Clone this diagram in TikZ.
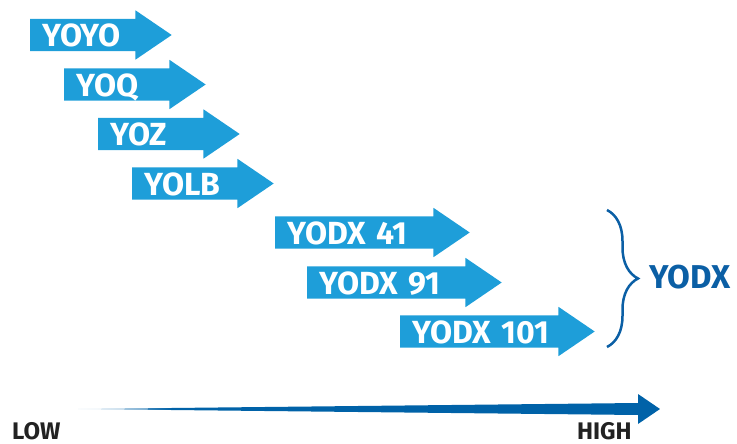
\documentclass[tikz,border=0pt]{standalone}
\usepackage{fontspec}
\setmainfont{Fira Sans}
\usetikzlibrary{shapes.arrows,positioning,decorations.pathreplacing,calc}
\definecolor{arrowcolor}{HTML}{1E9ED9}
\definecolor{bracecolor}{HTML}{0B5FA5}
\definecolor{scalecolor}{HTML}{0062A8}
\definecolor{scaletext}{HTML}{222222}
\colorlet{fadecolor}{scalecolor!15}
\pgfdeclarehorizontalshading{scalefade}{100bp}{color(0bp)=(fadecolor); color(25bp)=(fadecolor); color(33bp)=(scalecolor); color(100bp)=(scalecolor)}
\tikzset{
	stage/.style={
		single arrow,
		fill=arrowcolor,
		text=white,
		font=\bfseries\fontsize{32}{32}\selectfont,
		single arrow head extend=8.5pt,
		single arrow head indent=0pt,
		single arrow tip angle=68.5,
		inner xsep=12pt,
		inner ysep=0pt,
		outer sep=0pt,
		text height=28pt,
		text depth=4pt,
		align=left,
		text width=93.5pt,
		anchor=tail
	},
	longstage/.style={
		stage,
		text width=146.5pt
	},
	scalelabel/.style={
		text=scaletext,
		font=\bfseries\fontsize{24}{24}\selectfont,
		inner sep=0pt,
		anchor=base west
	},
	grouplabel/.style={
		text=bracecolor,
		font=\bfseries\fontsize{33}{33}\selectfont,
		inner sep=0pt,
		anchor=west
	}
}

\begin{document}
\begin{tikzpicture}[x=1pt,y=-1pt]
	\useasboundingbox (0,0) rectangle (737,444);
	\node [stage] (yoyo) at (30,35) {YOYO};
	\node [stage, below right=49.5pt and 34pt of yoyo.tail, anchor=tail] (yoq) {YOQ};
	\node [stage, below right=49.5pt and 34pt of yoq.tail, anchor=tail] (yoz) {YOZ};
	\node [stage, below right=49.5pt and 34pt of yoz.tail, anchor=tail] (yolb) {YOLB};
	\node [longstage, below right=49pt and 143pt of yolb.tail, anchor=tail] (yodx41) {YODX 41};
	\node [longstage, below right=50pt and 32pt of yodx41.tail, anchor=tail] (yodx91) {YODX 91};
	\node [longstage, below right=49pt and 93pt of yodx91.tail, anchor=tail] (yodx101) {YODX 101};

	\coordinate (bracetop) at (607,210);
	\coordinate (bracebot) at (607,347);
	\coordinate (bracetip) at (638,277);
	\draw [bracecolor, line width=2.5pt, decorate, decoration={brace, amplitude=31pt}] (bracetop) -- (bracebot);
	\node [grouplabel, right=11pt of bracetip] (yodx) {YODX};

	\coordinate (low) at (78,409);
	\coordinate (high) at (638,409);
	\coordinate (tip) at (660,409);
	\shade [shading=scalefade] (low) -- ($(high)+(0,-6)$) -- ($(high)+(0,-15)$) -- (tip) -- ($(high)+(0,15)$) -- ($(high)+(0,6)$) -- cycle;
	\node [scalelabel] (lowlbl) at (12,439) {LOW};
	\node [scalelabel] (highlbl) at (577,439) {HIGH};
\end{tikzpicture}
\end{document}
